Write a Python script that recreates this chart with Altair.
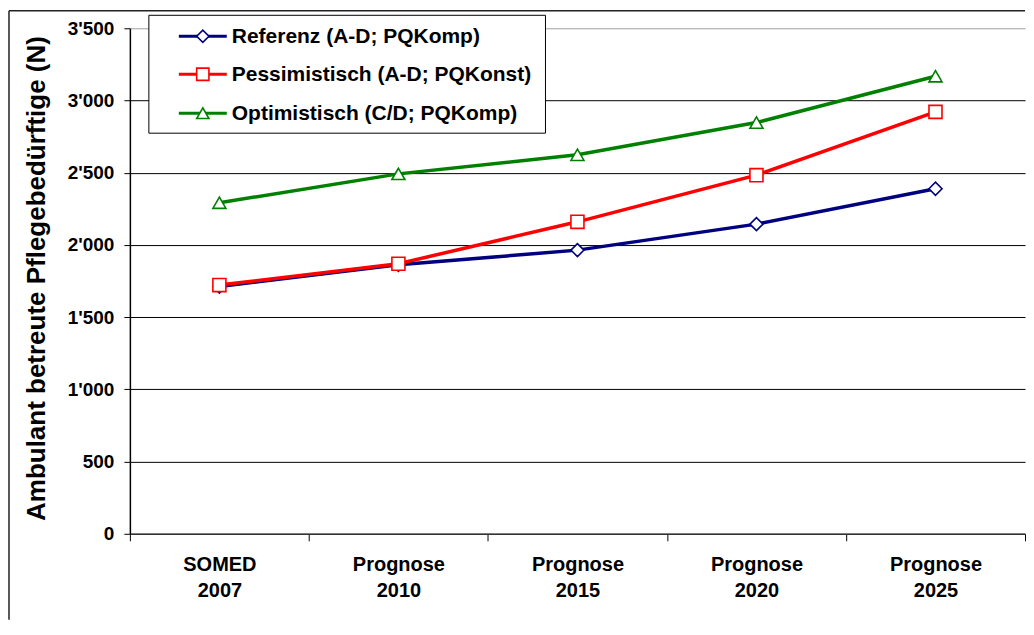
import altair as alt
import pandas as pd

categories = ["SOMED 2007", "Prognose 2010", "Prognose 2015", "Prognose 2020", "Prognose 2025"]
series_names = ["Referenz (A-D; PQKomp)", "Pessimistisch (A-D; PQKonst)", "Optimistisch (C/D; PQKomp)"]
referenz = [1712, 1862, 1964, 2144, 2389]
pessimistisch = [1722, 1870, 2160, 2483, 2921]
optimistisch = [2292, 2492, 2624, 2847, 3168]
y_ticks = [0, 500, 1000, 1500, 2000, 2500, 3000, 3500]
colors = ["#000080", "#FF0000", "#008000"]
shapes = ["diamond", "square", "triangle-up"]

rows = []
for name, vals in zip(series_names, [referenz, pessimistisch, optimistisch]):
    for c, v in zip(categories, vals):
        rows.append({"series": name, "cat": c, "value": v})
df = pd.DataFrame(rows)

FONT = "Liberation Sans"

cscale = alt.Scale(domain=series_names, range=colors)

x_enc = alt.X(
    "cat:N",
    sort=categories,
    scale=alt.Scale(type="band", domain=categories, paddingInner=0, paddingOuter=0),
    axis=alt.Axis(
        title=None,
        labelAngle=0,
        labelExpr="split(datum.label, ' ')",
        labelFont=FONT,
        labelFontSize=20,
        labelFontWeight="bold",
        labelColor="black",
        labelLineHeight=26,
        labelPadding=14,
        tickBand="extent",
        tickSize=7,
        tickColor="black",
        domainColor="#333333",
        domainWidth=1.5,
        grid=False,
    ),
)
y_enc = alt.Y(
    "value:Q",
    scale=alt.Scale(domain=[0, 3500], nice=False),
    axis=alt.Axis(
        values=y_ticks,
        labelExpr="replace(format(datum.value, ','), ',', \"'\")",
        labelFont=FONT,
        labelFontSize=19,
        labelFontWeight="bold",
        labelColor="black",
        labelPadding=10,
        tickSize=6,
        tickColor="black",
        domainColor="black",
        domainWidth=1.5,
        grid=True,
        gridColor={"condition": {"test": "datum.value === 3500", "value": "#a0a0a0"}, "value": "black"},
        gridWidth=1,
        title="Ambulant betreute Pflegebedürftige (N)",
        titleFont=FONT,
        titleFontSize=26,
        titleFontWeight="bold",
        titleColor="black",
        titleAngle=-90,
        titleX=-85,
        titleY=250,
        titleAlign="center",
        titleBaseline="alphabetic",
    ),
)

base = alt.Chart(df)

lines = base.mark_line(strokeWidth=3.5).encode(
    x=x_enc, y=y_enc, color=alt.Color("series:N", scale=cscale, legend=None)
)

point_layers = []
for name, shp in zip(series_names, shapes):
    point_layers.append(
        base.transform_filter(alt.datum.series == name)
        .mark_point(shape=shp, filled=False, fill="white", size=170, strokeWidth=1.6, opacity=1)
        .encode(x=x_enc, y=y_enc, color=alt.Color("series:N", scale=cscale, legend=None))
    )

one = alt.Data(values=[{}])

# outer frame (decoration)
border_left = alt.Chart(one).mark_rule(color="#222222", strokeWidth=1.5).encode(
    x=alt.value(-121), y=alt.value(-17.5), y2=alt.value(592)
)
border_top = alt.Chart(one).mark_rule(color="#222222", strokeWidth=1.5).encode(
    x=alt.value(-121), x2=alt.value(896), y=alt.value(-17.5)
)
pad_top = alt.Chart(one).mark_rule(opacity=0, strokeWidth=1).encode(
    x=alt.value(0), x2=alt.value(10), y=alt.value(-19.5)
)

# legend box and entries (drawn as a key, positioned like the original legend)
legend_box = alt.Chart(one).mark_rect(fill="white", stroke="black", strokeWidth=1).encode(
    x=alt.value(19), x2=alt.value(416), y=alt.value(-13), y2=alt.value(105)
)
legend_layers = [legend_box]
row_y = [8, 46, 85]
for name, col, shp, ry in zip(series_names, colors, shapes, row_y):
    legend_layers.append(
        alt.Chart(one).mark_rule(color=col, strokeWidth=3).encode(
            x=alt.value(49), x2=alt.value(97), y=alt.value(ry)
        )
    )
    legend_layers.append(
        alt.Chart(one).mark_point(shape=shp, filled=False, fill="white", stroke=col, size=150, strokeWidth=1.6, opacity=1).encode(
            x=alt.value(73), y=alt.value(ry)
        )
    )
    legend_layers.append(
        alt.Chart(one).mark_text(
            align="left", baseline="middle", font=FONT, fontSize=21, fontWeight="bold", color="black"
        ).encode(x=alt.value(102), y=alt.value(ry + 1), text=alt.value(name))
    )

chart = (
    alt.layer(border_left, border_top, pad_top, lines, *point_layers, *legend_layers)
    .properties(
        width=896,
        height=506,
        padding=0,
        background="white",
    )
    .configure(font=FONT)
    .configure_view(strokeWidth=0)
)

chart.save("out.html", embed_options={"renderer": "svg", "actions": False})
